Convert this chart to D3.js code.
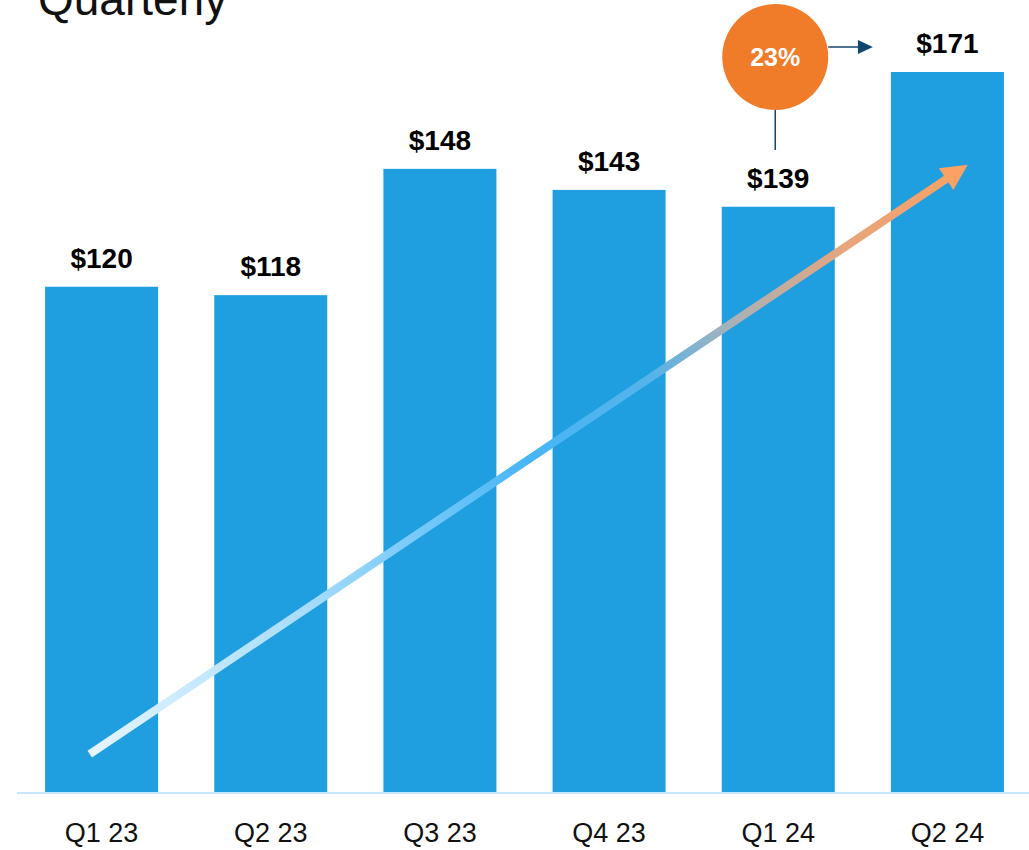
<!DOCTYPE html>
<html lang="en">
<head>
    <meta charset="UTF-8">
    <title>Quarterly</title>
    <script src="https://d3js.org/d3.v7.min.js"></script>
    <style>
        body { margin: 0; background: #fff; }
        text { font-family: "Liberation Sans", Arial, sans-serif; }
        .bar { fill: #1f9ee0; }
        .value { font-weight: bold; font-size: 28px; fill: #000; text-anchor: middle; }
        .axis text { font-size: 27px; fill: #111; }
        .axis path, .axis line { display: none; }
    </style>
</head>
<body>
    <svg id="chart" width="1029" height="850"></svg>
    <script>
        // data
        const quarters = ["Q1 23", "Q2 23", "Q3 23", "Q4 23", "Q1 24", "Q2 24"];
        const revenue = [120, 118, 148, 143, 139, 171];
        const valueLabels = ["$120", "$118", "$148", "$143", "$139", "$171"];
        const growthLabel = "23%";
        // trend arrow, in [quarter index, value] units
        const trendStart = [-0.07, 9];
        const trendEnd = [5.12, 149];

        const width = 1029, height = 850;
        const baseline = 792;

        const svg = d3.select("#chart");

        const x = d3.scaleBand()
            .domain(quarters)
            .range([17, 1032])
            .paddingInner(0.332)
            .paddingOuter(0.166);

        const y = d3.scaleLinear()
            .domain([0, 171])
            .range([baseline, 72]);

        // continuous x on quarter index, for the annotations
        const xi = d3.scaleLinear()
            .domain([0, quarters.length - 1])
            .range([x(quarters[0]) + x.bandwidth() / 2, x(quarters[quarters.length - 1]) + x.bandwidth() / 2]);

        // title (cut off at the top, as in the original)
        svg.append("text")
            .attr("x", 38)
            .attr("y", 15)
            .attr("font-size", 46)
            .attr("fill", "#111")
            .text("Quarterly");

        // bars
        svg.selectAll(".bar")
            .data(revenue)
            .enter().append("rect")
            .attr("class", "bar")
            .attr("x", (d, i) => x(quarters[i]))
            .attr("width", x.bandwidth())
            .attr("y", d => y(d))
            .attr("height", d => baseline - y(d));

        // value labels
        svg.selectAll(".value")
            .data(revenue)
            .enter().append("text")
            .attr("class", "value")
            .attr("x", (d, i) => x(quarters[i]) + x.bandwidth() / 2)
            .attr("y", d => y(d) - 19)
            .text((d, i) => valueLabels[i]);

        // baseline
        svg.append("line")
            .attr("x1", 17).attr("x2", width)
            .attr("y1", baseline + 1).attr("y2", baseline + 1)
            .attr("stroke", "#c8e6fa")
            .attr("stroke-width", 2);

        // x axis labels
        svg.append("g")
            .attr("class", "axis")
            .attr("transform", "translate(0," + baseline + ")")
            .call(d3.axisBottom(x).tickSize(0).tickPadding(31));

        // trend arrow with gradient
        const x0 = xi(trendStart[0]), y0 = y(trendStart[1]);
        const x1 = xi(trendEnd[0]), y1 = y(trendEnd[1]);
        const defs = svg.append("defs");
        const grad = defs.append("linearGradient")
            .attr("id", "trend")
            .attr("gradientUnits", "userSpaceOnUse")
            .attr("x1", x0).attr("y1", y0)
            .attr("x2", x1).attr("y2", y1);
        grad.append("stop").attr("offset", "0%").attr("stop-color", "#e6f5fe");
        grad.append("stop").attr("offset", "25%").attr("stop-color", "#a6dcfb");
        grad.append("stop").attr("offset", "50%").attr("stop-color", "#47b6f6");
        grad.append("stop").attr("offset", "64%").attr("stop-color", "#55b3ea");
        grad.append("stop").attr("offset", "73%").attr("stop-color", "#a8b2b8");
        grad.append("stop").attr("offset", "86%").attr("stop-color", "#e7a57c");
        grad.append("stop").attr("offset", "100%").attr("stop-color", "#f9a264");

        const ang = Math.atan2(y1 - y0, x1 - x0);
        const headLen = 26, headHalf = 13;
        const bx = x1 - headLen * Math.cos(ang), by = y1 - headLen * Math.sin(ang);
        svg.append("line")
            .attr("x1", x0).attr("y1", y0)
            .attr("x2", bx + 2 * Math.cos(ang)).attr("y2", by + 2 * Math.sin(ang))
            .attr("stroke", "url(#trend)")
            .attr("stroke-width", 8);
        svg.append("path")
            .attr("d", d3.line()([
                [x1, y1],
                [bx - headHalf * Math.sin(ang), by + headHalf * Math.cos(ang)],
                [bx + headHalf * Math.sin(ang), by - headHalf * Math.cos(ang)]
            ]) + "Z")
            .attr("fill", "#f9a264");

        // growth bubble above Q1 24
        const cx = xi(4) - 3, cy = 57, r = 53;
        const navy = "#12476f";
        svg.append("line")
            .attr("x1", cx).attr("x2", cx)
            .attr("y1", cy + r).attr("y2", 150)
            .attr("stroke", navy).attr("stroke-width", 1.5);
        svg.append("line")
            .attr("x1", cx + r).attr("x2", x(quarters[5]) - 30)
            .attr("y1", 47).attr("y2", 47)
            .attr("stroke", navy).attr("stroke-width", 1.5);
        svg.append("path")
            .attr("d", d3.line()([
                [x(quarters[5]) - 18, 47],
                [x(quarters[5]) - 33, 40],
                [x(quarters[5]) - 33, 54]
            ]) + "Z")
            .attr("fill", navy);
        svg.append("circle")
            .attr("cx", cx).attr("cy", cy).attr("r", r)
            .attr("fill", "#f07b29");
        svg.append("text")
            .attr("x", cx).attr("y", 66)
            .attr("text-anchor", "middle")
            .attr("font-size", 25)
            .attr("font-weight", "bold")
            .attr("fill", "#fff")
            .text(growthLabel);
    </script>
</body>
</html>
